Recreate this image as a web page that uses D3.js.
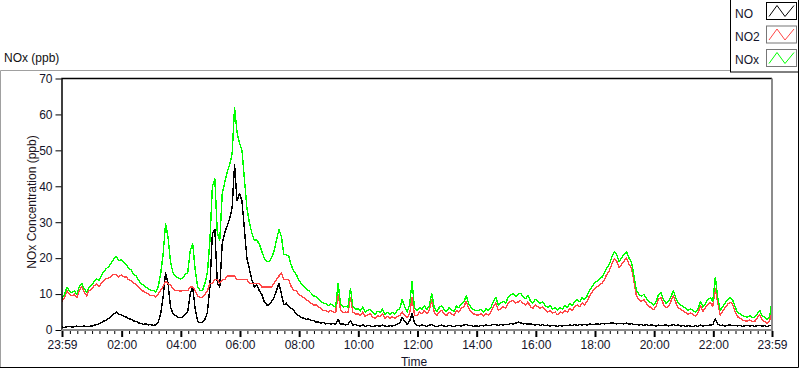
<!DOCTYPE html>
<html lang="en">
  <head>
    <meta charset="utf-8">
    <script src="https://d3js.org/d3.v7.min.js"></script>
    <style>
      body { margin: 0; background: #fff; }
      svg { display: block; font-family: "Liberation Sans", Arial, sans-serif; }
    </style>
  </head>
  <body>
    <div id="chart">
      <svg width="800" height="369"></svg>
    </div>
    <script type="text/javascript">
      // one sample every 5 minutes, starting at 23:59 the day before
      var stepMinutes = 5;

      // NO (ppb), one row per hour
      var noData = [
        0.8, 0.7, 0.9, 1.0, 0.8, 0.9, 1.1, 0.9, 1.0, 1.1, 0.9, 1.0,
        1.1, 1.3, 1.5, 1.7, 2.1, 2.5, 2.8, 3.3, 3.7, 4.4, 5.0, 4.4,
        4.3, 3.9, 3.6, 3.2, 3.0, 2.5, 2.4, 2.0, 1.8, 1.6, 1.7, 1.4,
        1.5, 1.3, 1.4, 2.0, 4.5, 9.0, 16.0, 13.0, 6.5, 4.5, 4.0, 3.6,
        3.4, 3.6, 4.5, 5.0, 10.0, 12.0, 6.0, 2.5, 2.0, 2.2, 3.0, 5.0,
        12.0, 27.0, 28.0, 13.0, 12.0, 24.0, 27.0, 29.0, 31.0, 34.0, 46.0, 36.0,
        38.0, 36.0, 28.0, 20.0, 17.0, 14.0, 12.0, 12.5, 11.0, 10.0, 8.0, 7.0,
        7.0, 8.0, 9.0, 11.0, 13.0, 10.0, 7.0, 7.5, 6.5, 6.0, 5.5, 4.5,
        4.0, 3.5, 3.3, 2.9, 3.1, 2.7, 2.6, 2.2, 2.3, 1.9, 2.1, 1.7,
        1.9, 1.6, 1.8, 1.5, 3.0, 1.6, 1.7, 1.4, 1.6, 2.5, 1.4, 1.5,
        1.3, 1.1, 1.5, 1.0, 1.3, 1.2, 0.9, 1.1, 1.3, 1.0, 1.4, 1.1,
        1.0, 1.2, 1.1, 1.3, 1.6, 2.0, 3.5, 2.5, 1.5, 2.5, 4.5, 2.0,
        1.3, 1.1, 1.4, 1.2, 1.0, 1.3, 1.6, 1.1, 0.9, 1.2, 1.4, 1.1,
        1.0, 1.3, 1.1, 0.9, 1.2, 1.3, 1.1, 1.4, 1.5, 1.2, 1.3, 1.0,
        1.2, 1.0, 1.3, 1.1, 1.4, 1.2, 1.3, 1.6, 1.5, 1.3, 1.5, 1.4,
        1.6, 1.5, 1.8, 1.7, 1.9, 2.2, 2.0, 1.7, 1.8, 1.6, 1.7, 1.5,
        1.4, 1.6, 1.3, 1.5, 1.2, 1.4, 1.1, 1.3, 1.2, 1.0, 1.3, 1.1,
        1.3, 1.2, 1.4, 1.2, 1.5, 1.3, 1.5, 1.4, 1.6, 1.4, 1.7, 1.5,
        1.6, 1.7, 1.6, 1.8, 1.7, 1.9, 1.8, 2.0, 1.9, 1.7, 1.9, 1.8,
        1.7, 1.9, 1.6, 1.8, 1.5, 1.6, 1.4, 1.5, 1.3, 1.5, 1.2, 1.4,
        1.3, 1.1, 1.4, 1.2, 1.3, 1.4, 1.1, 1.3, 1.5, 1.2, 1.4, 1.1,
        1.3, 1.0, 1.2, 1.1, 0.9, 1.2, 1.0, 1.4, 1.1, 1.3, 1.2, 1.4,
        1.5, 3.2, 1.6, 1.2, 1.4, 1.1, 1.3, 1.4, 1.2, 1.3, 1.1, 1.3,
        1.0, 1.2, 1.3, 1.1, 1.3, 1.0, 1.2, 1.3, 1.1, 1.2, 1.0, 1.2,
        1.5
      ];

      // NO2 (ppb)
      var no2Data = [
        8.0, 9.0, 11.0, 10.0, 9.5, 10.0, 9.0, 11.0, 12.0, 10.5, 9.5, 11.0,
        11.3, 12.3, 12.8, 12.0, 13.2, 13.8, 14.3, 14.5, 15.0, 15.5, 15.5, 14.8,
        15.3, 14.8, 14.8, 14.0, 13.7, 13.0, 12.8, 12.0, 11.2, 10.8, 10.4, 10.0,
        9.6, 9.6, 9.2, 10.0, 11.0, 12.0, 13.5, 13.0, 12.5, 11.5, 11.0, 11.0,
        10.8, 11.0, 11.0, 11.0, 12.0, 12.0, 11.0, 9.5, 9.0, 9.0, 10.0, 11.0,
        13.0, 13.0, 14.0, 14.0, 13.0, 14.0, 14.0, 15.0, 15.0, 15.0, 15.0, 14.0,
        14.0, 14.0, 14.0, 14.0, 13.0, 13.0, 13.0, 13.0, 13.0, 12.0, 12.0, 12.0,
        12.0, 12.0, 13.0, 14.0, 15.0, 16.0, 14.0, 14.0, 14.0, 12.0, 11.0, 11.0,
        10.0, 9.5, 9.0, 8.5, 8.0, 7.5, 7.0, 7.0, 6.5, 6.0, 5.5, 5.5,
        5.0, 5.5, 5.0, 4.8, 10.0, 5.5, 4.8, 5.0, 4.8, 9.0, 5.0, 4.5,
        4.5, 4.0, 5.0, 3.8, 4.2, 4.5, 3.6, 3.3, 4.0, 3.7, 4.5, 3.3,
        3.8, 3.3, 3.7, 3.2, 3.8, 4.0, 5.0, 4.0, 3.5, 4.5, 9.0, 4.0,
        4.0, 5.0, 4.5, 5.5, 4.5, 5.5, 8.5, 5.0, 4.0, 5.0, 5.5, 4.5,
        4.0, 5.0, 4.5, 4.0, 5.5, 5.0, 6.0, 6.5, 8.0, 6.0, 5.0, 4.5,
        4.2, 4.2, 4.5, 3.8, 4.6, 4.2, 5.0, 6.5, 7.5, 5.5, 6.0, 6.5,
        6.0, 7.5, 8.0, 8.3, 7.5, 7.8, 8.2, 7.5, 7.0, 7.8, 6.5, 6.0,
        7.0, 6.5, 6.0, 6.5, 5.5, 5.0, 5.5, 4.7, 5.0, 4.3, 5.0, 4.7,
        5.5, 5.0, 6.0, 5.5, 6.5, 7.0, 6.5, 7.5, 7.0, 8.0, 9.5, 10.5,
        11.5, 12.0, 12.5, 13.0, 14.0, 15.5, 16.5, 18.3, 19.8, 19.2, 17.3, 18.3,
        19.2, 20.0, 18.3, 17.3, 13.5, 9.5, 8.5, 8.0, 8.5, 7.5, 6.6, 6.2,
        5.7, 6.6, 8.6, 9.0, 7.1, 6.2, 6.6, 8.0, 9.5, 7.6, 6.2, 5.7,
        5.3, 4.8, 4.3, 4.8, 4.3, 3.9, 4.8, 6.7, 5.2, 6.2, 7.2, 7.6,
        6.6, 11.5, 7.5, 4.2, 5.2, 6.2, 7.2, 7.7, 7.2, 5.2, 3.7, 3.3,
        2.8, 2.6, 2.4, 2.8, 2.3, 2.4, 3.3, 4.3, 2.8, 2.3, 1.9, 2.4,
        6.5
      ];

      // NOx (ppb)
      var noxData = [
        8.8, 9.8, 11.9, 10.9, 10.4, 10.9, 9.9, 12.0, 13.0, 11.5, 10.5, 12.0,
        12.4, 13.5, 14.3, 13.7, 15.2, 16.3, 17.1, 17.7, 18.7, 19.8, 20.5, 19.3,
        19.6, 18.8, 18.3, 17.2, 16.7, 15.6, 15.1, 14.0, 13.0, 12.5, 12.0, 11.5,
        11.0, 11.0, 10.6, 12.0, 15.5, 21.0, 29.5, 26.0, 19.0, 16.0, 15.0, 14.6,
        14.2, 14.5, 15.5, 16.0, 22.0, 24.0, 17.0, 12.0, 11.0, 11.0, 13.0, 16.0,
        25.0, 40.0, 42.0, 27.0, 25.0, 38.0, 41.0, 44.0, 46.0, 49.0, 62.0, 55.0,
        52.0, 50.0, 42.0, 34.0, 30.0, 27.0, 25.0, 25.0, 24.0, 22.0, 20.0, 19.0,
        19.0, 20.0, 22.0, 25.0, 28.0, 26.0, 21.0, 21.0, 20.5, 18.0, 16.5, 15.5,
        14.0, 13.0, 12.2, 11.5, 11.0, 10.3, 9.5, 9.3, 8.7, 8.0, 7.5, 7.3,
        6.8, 7.3, 6.7, 6.4, 13.0, 7.2, 6.4, 6.6, 6.3, 11.5, 6.5, 5.9,
        5.9, 5.3, 6.4, 5.0, 5.5, 5.7, 4.8, 4.4, 5.2, 4.9, 5.8, 4.4,
        4.9, 4.4, 4.9, 4.4, 5.4, 6.0, 8.5, 6.5, 5.0, 7.0, 13.5, 6.0,
        5.3, 6.3, 5.7, 6.8, 5.7, 6.8, 10.1, 6.2, 5.1, 6.2, 6.8, 5.7,
        5.1, 6.2, 5.6, 5.1, 6.7, 6.2, 7.3, 7.8, 9.5, 7.3, 6.2, 5.7,
        5.4, 5.4, 5.8, 5.0, 5.9, 5.4, 6.3, 8.0, 9.0, 6.9, 7.5, 8.0,
        7.5, 9.1, 9.7, 10.1, 9.3, 10.0, 10.2, 9.3, 8.7, 9.6, 8.1, 7.5,
        8.5, 8.0, 7.4, 7.9, 6.8, 6.3, 6.8, 5.9, 6.2, 5.5, 6.2, 5.9,
        6.8, 6.3, 7.3, 6.8, 7.9, 8.4, 7.9, 9.0, 8.5, 9.5, 11.1, 12.1,
        13.1, 13.6, 14.2, 14.7, 15.8, 17.3, 18.3, 20.2, 21.7, 21.0, 19.1, 20.1,
        21.0, 21.8, 20.0, 19.0, 15.1, 11.0, 10.0, 9.4, 9.9, 8.9, 7.9, 7.5,
        7.0, 7.9, 9.9, 10.4, 8.4, 7.5, 7.9, 9.3, 10.9, 8.9, 7.5, 6.9,
        6.5, 6.0, 5.4, 5.9, 5.4, 5.0, 5.9, 8.0, 6.4, 7.4, 8.5, 8.9,
        8.0, 14.7, 9.0, 5.5, 6.5, 7.5, 8.5, 9.0, 8.5, 6.5, 4.9, 4.5,
        4.0, 3.8, 3.6, 4.0, 3.5, 3.6, 4.5, 5.5, 4.0, 3.5, 3.0, 3.6,
        8.0
      ];

      var seriesNames = ["NO", "NO2", "NOx"];
      var timeLabels = ["23:59", "02:00", "04:00", "06:00", "08:00", "10:00", "12:00",
                        "14:00", "16:00", "18:00", "20:00", "22:00", "23:59"];
      var timeTickMinutes = [0, 121, 241, 361, 481, 601, 721, 841, 961, 1081, 1201, 1321, 1440];
      var yTicks = [0, 10, 20, 30, 40, 50, 60, 70];

      var seriesColors = ["#000000", "#ff4646", "#00ff00"];
      var seriesData = [noData, no2Data, noxData];

      // SVG and layout
      var svg = d3.select("svg"),
        width = +svg.attr("width"),
        height = +svg.attr("height");
      var plot = {left: 62, right: 772, top: 78.5, bottom: 330};

      // outer panel
      svg.append("path")
        .attr("d", "M0.5,368 V70.5 H731")
        .attr("fill", "none").attr("stroke", "#a0a0a0");
      svg.append("path")
        .attr("d", "M0,367.5 H798.5 V72")
        .attr("fill", "none").attr("stroke", "#000");

      svg.append("text")
        .attr("x", 4).attr("y", 62)
        .style("font-size", "12px")
        .attr("fill", "#111")
        .text("NOx (ppb)");

      // scales
      var xScale = d3.scaleLinear()
        .domain([0, 1440])
        .range([plot.left, plot.right]);
      var yScale = d3.scaleLinear()
        .domain([0, 70])
        .range([plot.bottom, plot.top]);

      // y axis
      var yAxis = d3.axisLeft(yScale)
        .tickValues(yTicks)
        .tickSize(6)
        .tickPadding(3);
      var gy = svg.append("g")
        .attr("transform", "translate(" + (plot.left - 0.5) + ",0)")
        .call(yAxis);
      gy.select(".domain").remove();
      gy.selectAll("text").style("font-size", "12px").attr("fill", "#14142a")
        .attr("font-family", "Liberation Sans, Arial, sans-serif");

      // x axis, minor ticks every 15 min
      var minorTicks = d3.range(16, 1440, 15).filter(function(m) {
        return timeTickMinutes.indexOf(m) < 0;
      });
      var gxMinor = svg.append("g")
        .attr("transform", "translate(0," + (plot.bottom + 1) + ")")
        .call(d3.axisBottom(xScale).tickValues(minorTicks).tickSize(3).tickFormat(""));
      gxMinor.select(".domain").remove();

      var xAxis = d3.axisBottom(xScale)
        .tickValues(timeTickMinutes)
        .tickFormat(function(d, i) { return timeLabels[i]; })
        .tickSize(6)
        .tickPadding(3);
      var gx = svg.append("g")
        .attr("transform", "translate(0," + (plot.bottom + 1) + ")")
        .call(xAxis);
      gx.select(".domain").remove();
      gx.selectAll("line").attr("stroke-width", 2);
      gx.selectAll("text").style("font-size", "12px").attr("fill", "#14142a")
        .attr("font-family", "Liberation Sans, Arial, sans-serif");

      svg.append("text")
        .attr("x", 414).attr("y", 366)
        .attr("text-anchor", "middle")
        .style("font-size", "12px")
        .attr("fill", "#14142a")
        .text("Time");
      svg.append("text")
        .attr("transform", "translate(36," + 202 + ") rotate(-90)")
        .attr("text-anchor", "middle")
        .style("font-size", "12px")
        .attr("fill", "#1e1420")
        .text("NOx Concentration (ppb)");

      // plot lines, aliased like the logger display
      svg.append("clipPath").attr("id", "clip")
        .append("rect")
        .attr("x", plot.left).attr("y", plot.top)
        .attr("width", plot.right - plot.left).attr("height", plot.bottom - plot.top);

      var line = d3.line()
        .x(function(d, i) { return xScale(i * stepMinutes); })
        .y(function(d) { return yScale(d); });

      seriesData.forEach(function(data, k) {
        svg.append("path")
          .datum(data)
          .attr("clip-path", "url(#clip)")
          .attr("fill", "none")
          .attr("stroke", seriesColors[k])
          .attr("stroke-width", 1.4)
          .attr("stroke-linejoin", "round")
          .attr("shape-rendering", "crispEdges")
          .attr("d", line);
      });

      // plot frame: dark top/left, grey bottom/right
      svg.append("path")
        .attr("d", "M" + plot.left + "," + plot.bottom + " V" + plot.top + " H" + plot.right)
        .attr("fill", "none").attr("stroke", "#000").attr("stroke-width", 1.5);
      svg.append("path")
        .attr("d", "M" + plot.left + "," + plot.bottom + " H" + plot.right + " V" + plot.top)
        .attr("fill", "none").attr("stroke", "#8c8c8c").attr("stroke-width", 2);

      // legend
      var legend = svg.append("g");
      legend.append("rect")
        .attr("x", 730.5).attr("y", -1)
        .attr("width", 68).attr("height", 73)
        .attr("fill", "#fff").attr("stroke", "#000");
      seriesNames.forEach(function(name, k) {
        var y0 = 2.5 + k * 23.5;
        legend.append("text")
          .attr("x", 735).attr("y", 18 + k * 23)
          .style("font-size", "12px")
          .attr("fill", "#14142a")
          .text(name);
        legend.append("rect")
          .attr("x", 766.5).attr("y", y0)
          .attr("width", 30).attr("height", 17)
          .attr("fill", "#fff").attr("stroke", k === 0 ? "#000" : "#777");
        legend.append("path")
          .attr("d", "M" + 769 + "," + (y0 + 14) + " L" + 777 + "," + (y0 + 3) +
                " L" + 785 + "," + (y0 + 14) + " L" + 794 + "," + (y0 + 3))
          .attr("fill", "none")
          .attr("stroke", seriesColors[k]);
      });
    </script>
  </body>
</html>
